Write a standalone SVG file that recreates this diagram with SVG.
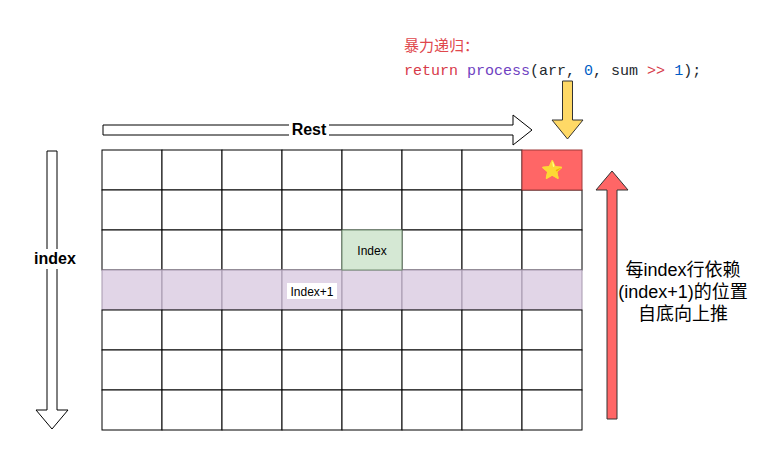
<svg xmlns="http://www.w3.org/2000/svg" width="778" height="461" viewBox="0 0 778 461">
<style>
.c{fill:#ffffff;stroke:#000000;stroke-width:1}
.p{fill:#e1d5e7;stroke:#a597ad;stroke-width:1}
.arw{stroke-width:1;stroke-linejoin:miter}
.lbl{font-family:"Liberation Sans",Arial,sans-serif;fill:#000}
.code{font-family:"Liberation Mono","DejaVu Sans Mono",monospace;font-size:15px}
</style>
<rect x="0" y="0" width="778" height="461" fill="#ffffff"/>
<g id="title">
<text x="404" y="51" font-family="'Noto Sans CJK SC',sans-serif" font-size="15" fill="#e0474c">暴力递归：</text>
<text x="404" y="75" class="code" xml:space="preserve"><tspan fill="#d73a49">return</tspan><tspan fill="#24292e"> </tspan><tspan fill="#6f42c1">process</tspan><tspan fill="#24292e">(arr, </tspan><tspan fill="#005cc5">0</tspan><tspan fill="#24292e">, sum </tspan><tspan fill="#d73a49">&gt;&gt;</tspan><tspan fill="#24292e"> </tspan><tspan fill="#005cc5">1</tspan><tspan fill="#24292e">);</tspan></text>
</g>
<g id="grid">
<g id="rows-top">
<rect class="c" x="102" y="150" width="60" height="40"/><rect class="c" x="162" y="150" width="60" height="40"/><rect class="c" x="222" y="150" width="60" height="40"/><rect class="c" x="282" y="150" width="60" height="40"/><rect class="c" x="342" y="150" width="60" height="40"/><rect class="c" x="402" y="150" width="60" height="40"/><rect class="c" x="462" y="150" width="60" height="40"/>
<rect class="c" x="102" y="190" width="60" height="40"/><rect class="c" x="162" y="190" width="60" height="40"/><rect class="c" x="222" y="190" width="60" height="40"/><rect class="c" x="282" y="190" width="60" height="40"/><rect class="c" x="342" y="190" width="60" height="40"/><rect class="c" x="402" y="190" width="60" height="40"/><rect class="c" x="462" y="190" width="60" height="40"/><rect class="c" x="522" y="190" width="60" height="40"/>
<rect class="c" x="102" y="230" width="60" height="40"/><rect class="c" x="162" y="230" width="60" height="40"/><rect class="c" x="222" y="230" width="60" height="40"/><rect class="c" x="282" y="230" width="60" height="40"/><rect class="c" x="402" y="230" width="60" height="40"/><rect class="c" x="462" y="230" width="60" height="40"/><rect class="c" x="522" y="230" width="60" height="40"/>
</g>
<g id="row-index1">
<rect class="p" x="102" y="270" width="60" height="40"/><rect class="p" x="162" y="270" width="60" height="40"/><rect class="p" x="222" y="270" width="60" height="40"/><rect class="p" x="282" y="270" width="60" height="40"/><rect class="p" x="342" y="270" width="60" height="40"/><rect class="p" x="402" y="270" width="60" height="40"/><rect class="p" x="462" y="270" width="60" height="40"/><rect class="p" x="522" y="270" width="60" height="40"/>
</g>
<g id="rows-bottom">
<rect class="c" x="102" y="310" width="60" height="40"/><rect class="c" x="162" y="310" width="60" height="40"/><rect class="c" x="222" y="310" width="60" height="40"/><rect class="c" x="282" y="310" width="60" height="40"/><rect class="c" x="342" y="310" width="60" height="40"/><rect class="c" x="402" y="310" width="60" height="40"/><rect class="c" x="462" y="310" width="60" height="40"/><rect class="c" x="522" y="310" width="60" height="40"/>
<rect class="c" x="102" y="350" width="60" height="40"/><rect class="c" x="162" y="350" width="60" height="40"/><rect class="c" x="222" y="350" width="60" height="40"/><rect class="c" x="282" y="350" width="60" height="40"/><rect class="c" x="342" y="350" width="60" height="40"/><rect class="c" x="402" y="350" width="60" height="40"/><rect class="c" x="462" y="350" width="60" height="40"/><rect class="c" x="522" y="350" width="60" height="40"/>
<rect class="c" x="102" y="390" width="60" height="40"/><rect class="c" x="162" y="390" width="60" height="40"/><rect class="c" x="222" y="390" width="60" height="40"/><rect class="c" x="282" y="390" width="60" height="40"/><rect class="c" x="342" y="390" width="60" height="40"/><rect class="c" x="402" y="390" width="60" height="40"/><rect class="c" x="462" y="390" width="60" height="40"/><rect class="c" x="522" y="390" width="60" height="40"/>
</g>
</g>
<g id="cell-index">
<rect x="342" y="230" width="60" height="40" fill="#d5e8d4" stroke="#6f8a6e" stroke-width="1"/>
<text x="372" y="254.5" class="lbl" font-size="12" text-anchor="middle">Index</text>
</g>
<g id="label-index1">
<rect x="287" y="283" width="50" height="16" fill="#ffffff"/>
<text x="312" y="295.5" class="lbl" font-size="12" text-anchor="middle">Index+1</text>
</g>
<g id="cell-star">
<rect x="522" y="150" width="60" height="40" fill="#ff6666" stroke="#9e3a3a" stroke-width="1"/>
<text x="552" y="175.5" font-family="'DejaVu Sans',sans-serif" font-size="18" text-anchor="middle" fill="#f7c325" stroke="#d89a10" stroke-width="0.6">⭐</text>
</g>
<g id="connectors">
<path class="arw" d="M103,125 L513,125 L513,115 L532,130 L513,145 L513,135 L103,135 Z" fill="#ffffff" stroke="#000"/>
<path class="arw" d="M47,151 L57,151 L57,410 L68,410 L52,429 L36,410 L47,410 Z" fill="#ffffff" stroke="#000"/>
<path class="arw" d="M562.5,81 L572.5,81 L572.5,120 L583,120 L567.5,139 L552,120 L562.5,120 Z" fill="#ffd966" stroke="#333"/>
<path class="arw" d="M607,419 L617,419 L617,190 L628,190 L612,171 L596,190 L607,190 Z" fill="#ff6666" stroke="#333"/>
</g>
<g id="label-rest">
<rect x="289" y="120" width="40" height="19" fill="#ffffff"/>
<text x="309" y="135" class="lbl" font-size="16" font-weight="bold" text-anchor="middle">Rest</text>
</g>
<g id="label-index">
<rect x="31" y="249" width="48" height="20" fill="#ffffff"/>
<text x="55" y="264" class="lbl" font-size="16" font-weight="bold" text-anchor="middle">index</text>
</g>
<g id="label-right">
<text x="683" y="276" font-family="'Liberation Sans','Noto Sans CJK SC',sans-serif" font-size="18" text-anchor="middle" fill="#000">每index行依赖</text>
<text x="683" y="298" font-family="'Liberation Sans','Noto Sans CJK SC',sans-serif" font-size="18" text-anchor="middle" fill="#000">(index+1)的位置</text>
<text x="683" y="320" font-family="'Liberation Sans','Noto Sans CJK SC',sans-serif" font-size="18" text-anchor="middle" fill="#000">自底向上推</text>
</g>
</svg>
